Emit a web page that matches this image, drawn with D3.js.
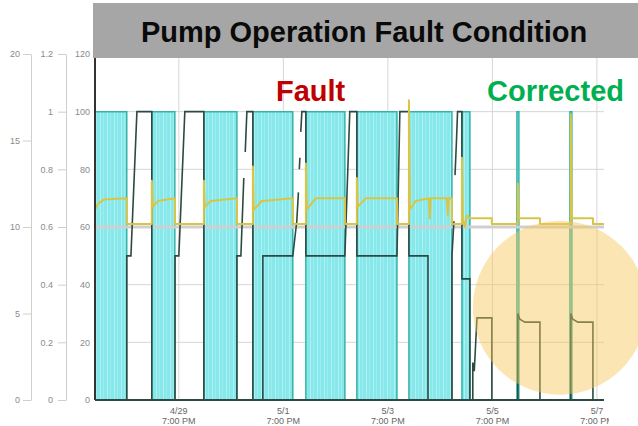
<!DOCTYPE html>
<html>
<head>
<meta charset="utf-8">
<script src="https://cdn.jsdelivr.net/npm/d3@7"></script>
<style>
  html, body { margin: 0; padding: 0; background: #fff; }
  svg { display: block; font-family: Arial, "Liberation Sans", sans-serif; }
</style>
</head>
<body>
<script>
// pump running state (0 / 100 on the right-hand 0-120 axis), step after each time
let pumpTimes = ['4/28 04:30', '4/28 19:05', '4/29 06:35', '4/29 17:10', '4/30 06:30', '4/30 21:40',
    '5/1 05:00', '5/1 23:20', '5/2 05:20', '5/2 23:15', '5/3 04:45', '5/3 23:10', '5/4 04:40',
    '5/5 00:25', '5/5 05:00', '5/5 08:40', '5/6 06:15', '5/6 07:10', '5/7 06:35', '5/7 07:30', '5/7 22:15']
let pumpValues = [100, 0, 100, 0, 100, 0, 100, 0, 100, 0, 100, 0, 100, 0, 100, 0, 100, 0, 100, 0, 0]

// dark trace, read on the 0-1.2 axis (null = gap in the record)
let darkTimes = ['4/28 04:30', '4/28 19:05', '4/28 19:05', '4/28 21:00', '4/28 23:45', '4/29 06:35', '4/29 06:35',
    '4/29 17:15', '4/29 17:15', '4/29 19:00', '4/29 21:45', '4/30 06:30', '4/30 06:30',
    '4/30 21:40', '4/30 21:40', '4/30 23:30', '5/1 00:50', '5/1 01:10', '5/1 01:30', '5/1 02:15', '5/1 05:00', '5/1 05:00',
    '5/1 09:35', '5/1 09:35', '5/1 23:20', '5/2 01:10', '5/2 01:55', '5/2 02:05', '5/2 02:20', '5/2 02:35', '5/2 02:45',
    '5/2 03:00', '5/2 03:30', '5/2 05:20', '5/2 05:20', '5/2 23:15', '5/3 01:30', '5/3 04:45', '5/3 04:45',
    '5/3 23:10', '5/4 00:30', '5/4 04:40', '5/4 04:40', '5/4 13:25', '5/4 13:25',
    '5/5 00:25', '5/5 00:25', '5/5 01:20', '5/5 01:35', '5/5 01:50', '5/5 02:30', '5/5 03:00', '5/5 05:00', '5/5 05:00',
    '5/5 08:40', '5/5 08:40', '5/5 10:00', '5/5 10:00', '5/5 10:40', '5/5 11:55', '5/5 18:45', '5/5 18:45',
    '5/6 06:40', '5/6 06:40', '5/6 07:35', '5/6 09:55', '5/6 16:50', '5/6 16:50',
    '5/7 07:00', '5/7 07:00', '5/7 07:55', '5/7 10:15', '5/7 17:10', '5/7 17:10', '5/7 22:15']
let darkValues = [0, 0, 0.5, 0.5, 1, 1, 0,
    0, 0.5, 0.5, 1, 1, 0,
    0, 0.5, 0.5, 0.77, null, 0.86, 1, 1, 0,
    0, 0.5, 0.5, 0.62, 0.72, null, 0.8, 0.84, null,
    0.93, 1, 1, 0.5, 0.5, 1, 1, 0.5,
    0.5, 1, 1, 0.5, 0.5, 0,
    0, 0.5, 0.62, null, 0.78, 0.9, 1, 1, 0.42,
    0.42, 0, 0, 0.13, 0.1, 0.285, 0.285, 0,
    0, 0.3, 0.28, 0.27, 0.27, 0,
    0, 0.3, 0.28, 0.27, 0.27, 0, 0]

// yellow trace, on the 0-120 axis
let yellowTimes = ['4/28 04:30', '4/28 05:50', '4/28 08:35', '4/28 19:05', '4/28 19:05',
    '4/29 06:35', '4/29 06:35', '4/29 07:05', '4/29 09:20', '4/29 17:10', '4/29 17:10',
    '4/30 06:30', '4/30 06:30', '4/30 06:55', '4/30 09:40', '4/30 21:40', '4/30 21:40',
    '5/1 05:00', '5/1 05:00', '5/1 05:25', '5/1 09:05', '5/1 23:20', '5/1 23:20',
    '5/2 05:20', '5/2 05:20', '5/2 05:45', '5/2 09:55', '5/2 23:15', '5/2 23:15',
    '5/3 04:45', '5/3 04:45', '5/3 05:10', '5/3 08:55', '5/3 23:10', '5/3 23:10',
    '5/4 04:40', '5/4 04:40', '5/4 05:05', '5/4 07:50', '5/4 13:50', '5/4 14:15', '5/4 14:40',
    '5/4 22:05', '5/4 22:30', '5/4 23:00', '5/5 00:25', '5/5 00:25',
    '5/5 05:00', '5/5 05:00', '5/5 05:25', '5/5 06:20', '5/5 07:15', '5/5 08:40', '5/5 18:45', '5/5 18:45',
    '5/6 06:40', '5/6 06:40', '5/6 07:10', '5/6 16:50', '5/6 16:50',
    '5/7 07:00', '5/7 07:00', '5/7 07:30', '5/7 17:10', '5/7 17:10', '5/7 22:15']
let yellowValues = [66, 68, 69.5, 70, 61,
    61, 76, 67, 69, 70, 61,
    61, 76, 67, 69, 70, 61,
    61, 81, 66, 69, 70, 61,
    61, 82, 66, 70, 70, 61,
    61, 77, 67, 70, 70, 61,
    61, 104, 66, 69, 70, 63, 70,
    70, 64, 70, 70, 61,
    61, 84, 63, 60, 64, 63, 63, 61,
    61, 75, 63, 63, 61,
    61, 99, 63, 63, 61, 61]

// flat gray reference line (0-120 axis)
let refTimes = ['4/28 04:30', '5/7 22:15']
let refValues = [60, 60]

let xDomain = ['4/28 04:30', '5/7 22:15']
let xTicks = ['4/29 19:00', '5/1 19:00', '5/3 19:00', '5/5 19:00', '5/7 19:00']
let xTickLabels = [['4/29', '7:00 PM'], ['5/1', '7:00 PM'], ['5/3', '7:00 PM'], ['5/5', '7:00 PM'], ['5/7', '7:00 PM']]
let axis1Ticks = [0, 5, 10, 15, 20]
let axis2Ticks = [0, 0.2, 0.4, 0.6, 0.8, 1, 1.2]
let axis3Ticks = [0, 20, 40, 60, 80, 100, 120]

let title = 'Pump Operation Fault Condition'
let noteFault = 'Fault'
let noteCorrected = 'Corrected'
let circleCenter = ['5/7 02:00', 32]

const parse = d3.timeParse('%Y %m/%d %H:%M')
const t = s => parse('2019 ' + s)
const zip = (ts, vs) => ts.map((s, i) => ({ t: t(s), v: vs[i] }))

let pump = zip(pumpTimes, pumpValues)
let dark = zip(darkTimes, darkValues)
let yellow = zip(yellowTimes, yellowValues)
let ref = zip(refTimes, refValues)

let W = 638, H = 426
let plot = { left: 95, right: 604, top: 54, bottom: 400 }

let x = d3.scaleTime().domain(xDomain.map(t)).range([plot.left, plot.right])
let y1 = d3.scaleLinear().domain([0, 20]).range([plot.bottom, plot.top])
let y2 = d3.scaleLinear().domain([0, 1.2]).range([plot.bottom, plot.top])
let y3 = d3.scaleLinear().domain([0, 120]).range([plot.bottom, plot.top])

let svg = d3.select('body').append('svg')
    .attr('width', W)
    .attr('height', H)

// soft stripy cyan fill like the dense sample lines
let defs = svg.append('defs')
let pat = defs.append('pattern')
    .attr('id', 'stripes')
    .attr('patternUnits', 'userSpaceOnUse')
    .attr('width', 7)
    .attr('height', 10)
pat.append('rect').attr('width', 7).attr('height', 10).attr('fill', '#86e8ea')
pat.append('rect').attr('x', 2).attr('width', 1).attr('height', 10).attr('fill', '#aef1f2')
pat.append('rect').attr('x', 5).attr('width', 1).attr('height', 10).attr('fill', '#9eedee')

defs.append('clipPath').attr('id', 'labelclip')
    .append('rect').attr('x', 0).attr('y', 0).attr('width', 609).attr('height', H)

// grid
svg.append('g')
    .selectAll('line')
    .data(axis3Ticks.slice(1))
    .join('line')
    .attr('x1', plot.left).attr('x2', plot.right)
    .attr('y1', d => y3(d)).attr('y2', d => y3(d))
    .attr('stroke', '#d6d6d6')
svg.append('g')
    .selectAll('line')
    .data(xTicks.map(t))
    .join('line')
    .attr('x1', d => x(d)).attr('x2', d => x(d))
    .attr('y1', plot.top).attr('y2', plot.bottom)
    .attr('stroke', '#d6d6d6')

// left axes
function styleAxis(g) {
    g.selectAll('.domain').attr('stroke', '#cfcfcf')
    g.selectAll('.tick line').attr('stroke', '#cfcfcf')
    g.selectAll('.tick text').attr('fill', '#8a8a8a').attr('font-size', 9)
}
svg.append('g')
    .attr('transform', 'translate(31,0)')
    .call(d3.axisLeft(y1).tickValues(axis1Ticks).tickSize(8).tickSizeOuter(0).tickPadding(3))
    .call(styleAxis)
svg.append('g')
    .attr('transform', 'translate(66,0)')
    .call(d3.axisLeft(y2).tickValues(axis2Ticks).tickSize(8).tickSizeOuter(0).tickPadding(5)
        .tickFormat(d3.format('~g')))
    .call(styleAxis)
svg.append('g')
    .attr('transform', `translate(${plot.left},0)`)
    .call(d3.axisLeft(y3).tickValues(axis3Ticks).tickSize(0).tickPadding(5))
    .call(styleAxis)
    .call(g => g.select('.domain').remove())

// pump on/off blocks
let area = d3.area()
    .curve(d3.curveStepAfter)
    .x(d => x(d.t))
    .y0(y3(0))
    .y1(d => y3(d.v))
let edge = d3.line()
    .curve(d3.curveStepAfter)
    .x(d => x(d.t))
    .y(d => y3(d.v))

svg.append('path')
    .datum(pump)
    .attr('fill', 'url(#stripes)')
    .attr('d', area)
svg.append('path')
    .datum(pump)
    .attr('fill', 'none')
    .attr('stroke', '#34b3a9')
    .attr('stroke-width', 1.5)
    .attr('d', edge)

// gray reference
svg.append('path')
    .datum(ref)
    .attr('fill', 'none')
    .attr('stroke', '#cfcfcf')
    .attr('stroke-width', 3)
    .attr('d', d3.line().x(d => x(d.t)).y(d => y3(d.v)))

// dark trace
svg.append('path')
    .datum(dark)
    .attr('fill', 'none')
    .attr('stroke', '#2c4a43')
    .attr('stroke-width', 1.6)
    .attr('d', d3.line().defined(d => d.v != null).x(d => x(d.t)).y(d => y2(d.v)))

// yellow trace
svg.append('path')
    .datum(yellow)
    .attr('fill', 'none')
    .attr('stroke', '#d8c548')
    .attr('stroke-width', 2)
    .attr('stroke-linejoin', 'round')
    .attr('d', d3.line().x(d => x(d.t)).y(d => y3(d.v)))

// plot frame: dark left edge and base
svg.append('line')
    .attr('x1', plot.left).attr('x2', plot.left)
    .attr('y1', plot.top).attr('y2', plot.bottom)
    .attr('stroke', '#333').attr('stroke-width', 2)
svg.append('line')
    .attr('x1', plot.left).attr('x2', plot.right)
    .attr('y1', plot.bottom).attr('y2', plot.bottom)
    .attr('stroke', '#2c4a43').attr('stroke-width', 2)

// x labels, two lines each
let xl = svg.append('g').attr('clip-path', 'url(#labelclip)')
    .selectAll('text')
    .data(xTicks.map((s, i) => ({ t: t(s), lab: xTickLabels[i] })))
    .join('text')
    .attr('text-anchor', 'middle')
    .attr('font-size', 9)
    .attr('fill', '#666')
xl.append('tspan').attr('x', d => x(d.t)).attr('y', 414).text(d => d.lab[0])
xl.append('tspan').attr('x', d => x(d.t)).attr('y', 424).text(d => d.lab[1])

// highlight circle over the corrected period
svg.append('circle')
    .attr('cx', x(t(circleCenter[0])))
    .attr('cy', y3(circleCenter[1]))
    .attr('r', 87)
    .attr('fill', '#f6c657')
    .attr('opacity', 0.45)

// annotations
svg.append('text')
    .attr('x', 276).attr('y', 101)
    .attr('font-size', 29).attr('font-weight', 'bold')
    .attr('fill', '#c00000')
    .text(noteFault)
svg.append('text')
    .attr('x', 487).attr('y', 101)
    .attr('font-size', 29).attr('font-weight', 'bold')
    .attr('fill', '#00b050')
    .text(noteCorrected)

// title banner
svg.append('rect')
    .attr('x', 93).attr('y', 3)
    .attr('width', W - 93).attr('height', 55)
    .attr('fill', '#a6a6a6')
svg.append('text')
    .attr('x', 364).attr('y', 42)
    .attr('text-anchor', 'middle')
    .attr('font-size', 29).attr('font-weight', 'bold')
    .attr('fill', '#0a0a0a')
    .text(title)
</script>
</body>
</html>
